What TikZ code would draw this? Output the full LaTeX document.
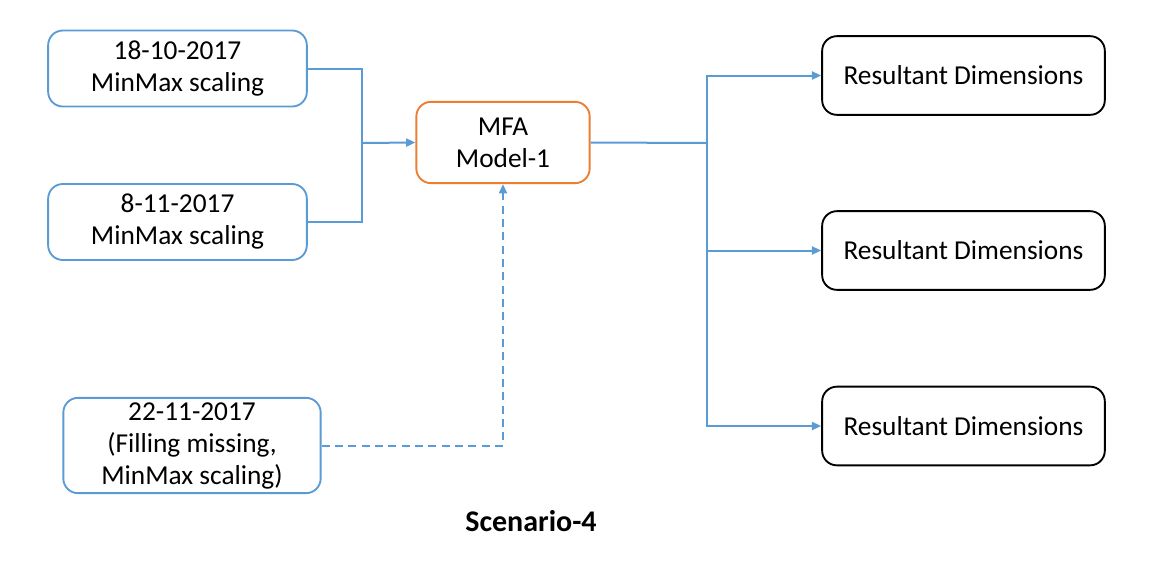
\documentclass[tikz,border=0pt]{standalone}
\usepackage{fontspec}
\setmainfont{Carlito}
\usetikzlibrary{positioning, arrows.meta}

\definecolor{lineblue}{RGB}{91,155,213}
\definecolor{mfaorange}{RGB}{237,125,49}

\tikzset{
    databox/.style={rectangle, rounded corners=11pt, draw=lineblue, line width=1.4pt, align=center, font=\fontsize{20.5}{24}\selectfont, minimum width=194pt, minimum height=57pt},
    modelbox/.style={databox, draw=mfaorange, minimum width=130pt, minimum height=61pt},
    resultbox/.style={rectangle, rounded corners=11pt, draw=black, line width=1.4pt, align=center, font=\fontsize{20.5}{24}\selectfont, minimum width=212pt, minimum height=59pt},
    link/.style={draw=lineblue, line width=1.5pt},
    tip/.style={-{Triangle[length=7pt, width=6pt]}}
}

\begin{document}
\begin{tikzpicture}[x=0.75pt, y=-0.75pt]
            \useasboundingbox (0, 0) rectangle (1158, 562);

            \node[databox] (oct) at (177.5, 68.5) {18-10-2017\\MinMax scaling};
            \node[databox] (nov) at (177.5, 222) {8-11-2017\\MinMax scaling};
            \node[databox, minimum width=193pt, minimum height=70pt] (fill) at (192, 445.5) {22-11-2017\\(Filling missing,\\MinMax scaling)};
            \node[modelbox] (mfa) at (503, 142.5) {MFA\\Model-1};

            \node[resultbox] (res1) at (963.5, 75.5) {Resultant Dimensions};
            \node[resultbox] (res2) at (963.5, 250.5) {Resultant Dimensions};
            \node[resultbox] (res3) at (963.5, 426) {Resultant Dimensions};

            \node[font=\fontsize{22.5}{26}\selectfont\bfseries] (title) at (531, 521) {Scenario-4};

            \coordinate (join) at (361.5, 143);
            \coordinate (split) at (707, 143);

            \draw[link] (oct.east) -| (join);
            \draw[link] (nov.east) -| (join);
            \draw[link, tip] (join) -- (mfa.west);

            \draw[link] (mfa.east) -- (split);
            \draw[link, tip] (split) |- (res1.west);
            \draw[link, tip] (split) |- (res2.west);
            \draw[link, tip] (split) |- (res3.west);

            \draw[link, tip, dashed, dash pattern=on 6pt off 4pt] (fill.east) -| (mfa.south);
        \end{tikzpicture}
\end{document}
